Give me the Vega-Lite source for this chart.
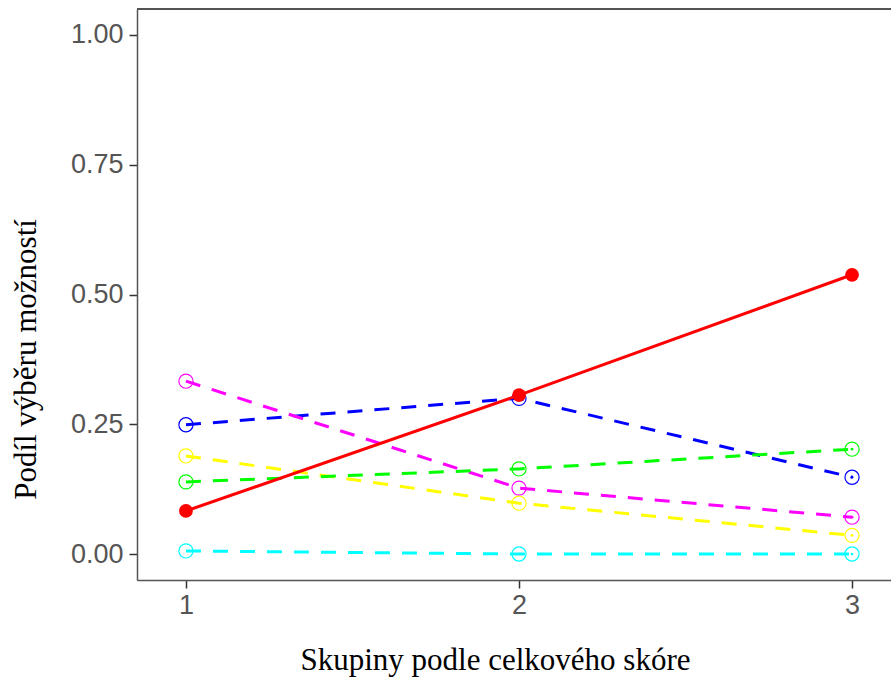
{
  "$schema": "https://vega.github.io/schema/vega-lite/v6.json",
  "width": 754,
  "height": 571,
  "autosize": "none",
  "padding": {"left": 137, "top": 9, "right": 0, "bottom": 97},
  "background": "white",
  "config": {
    "view": {"stroke": null},
    "axis": {
      "grid": false,
      "domainColor": "#555555",
      "domainWidth": 1.5,
      "tickColor": "#333333",
      "tickWidth": 1.5,
      "tickSize": 8,
      "labelFont": "Liberation Sans",
      "labelFontSize": 27,
      "labelColor": "#555555",
      "titleFont": "Liberation Serif",
      "titleFontSize": 31,
      "titleFontWeight": "normal",
      "titleColor": "#000000"
    }
  },
  "data": {
    "values": [
      {"moznost": "A", "skupina": 1, "podil": 0.083},
      {"moznost": "A", "skupina": 2, "podil": 0.306},
      {"moznost": "A", "skupina": 3, "podil": 0.538},
      {"moznost": "B", "skupina": 1, "podil": 0.249},
      {"moznost": "B", "skupina": 2, "podil": 0.300},
      {"moznost": "B", "skupina": 3, "podil": 0.148},
      {"moznost": "C", "skupina": 1, "podil": 0.333},
      {"moznost": "C", "skupina": 2, "podil": 0.127},
      {"moznost": "C", "skupina": 3, "podil": 0.071},
      {"moznost": "D", "skupina": 1, "podil": 0.189},
      {"moznost": "D", "skupina": 2, "podil": 0.098},
      {"moznost": "D", "skupina": 3, "podil": 0.036},
      {"moznost": "E", "skupina": 1, "podil": 0.139},
      {"moznost": "E", "skupina": 2, "podil": 0.164},
      {"moznost": "E", "skupina": 3, "podil": 0.202},
      {"moznost": "F", "skupina": 1, "podil": 0.006},
      {"moznost": "F", "skupina": 2, "podil": 0.0},
      {"moznost": "F", "skupina": 3, "podil": 0.0}
    ]
  },
  "layer": [
    {
      "mark": {"type": "rule", "color": "#555555", "strokeWidth": 1.5},
      "encoding": {"y": {"datum": 1.05, "type": "quantitative", "scale": {"domain": [-0.05, 1.05], "nice": false, "zero": false}}}
    },
    {
      "transform": [{"filter": "datum.moznost != 'A'"}],
      "mark": {"type": "line", "strokeWidth": 3, "strokeDash": [15, 12]},
      "encoding": {
        "x": {
          "field": "skupina", "type": "quantitative",
          "scale": {"domain": [0.853, 3.117], "nice": false, "zero": false},
          "axis": {"values": [1, 2, 3], "format": "d", "labelPadding": 4, "title": "Skupiny podle celkového skóre", "titleX": 358, "titleY": 89, "titleBaseline": "alphabetic", "titleAnchor": null, "titleAlign": "center"}
        },
        "y": {
          "field": "podil", "type": "quantitative",
          "scale": {"domain": [-0.05, 1.05], "nice": false, "zero": false},
          "axis": {"values": [0, 0.25, 0.5, 0.75, 1], "format": ".2f", "labelPadding": 6, "title": "Podíl výběru možností", "titleX": -102, "titleY": 350, "titleAngle": -90, "titleAlign": "center", "titleBaseline": "alphabetic", "titleAnchor": null}
        },
        "color": {"field": "moznost", "type": "nominal", "scale": {"domain": ["A", "B", "C", "D", "E", "F"], "range": ["#FF0000", "#0000FF", "#FF00FF", "#FFFF00", "#00FF00", "#00FFFF"]}, "legend": null}
      }
    },
    {
      "transform": [{"filter": "datum.moznost != 'A'"}],
      "mark": {"type": "point", "shape": "circle", "filled": false, "size": 200, "strokeWidth": 1.2, "opacity": 1},
      "encoding": {
        "x": {"field": "skupina", "type": "quantitative"},
        "y": {"field": "podil", "type": "quantitative"},
        "color": {"field": "moznost", "type": "nominal", "legend": null}
      }
    },
    {
      "transform": [{"filter": "datum.moznost != 'A' && datum.skupina == 3"}],
      "mark": {"type": "circle", "size": 8, "opacity": 1},
      "encoding": {
        "x": {"field": "skupina", "type": "quantitative"},
        "y": {"field": "podil", "type": "quantitative"},
        "color": {"field": "moznost", "type": "nominal", "legend": null}
      }
    },
    {
      "transform": [{"filter": "datum.moznost == 'A'"}],
      "mark": {"type": "line", "strokeWidth": 3},
      "encoding": {
        "x": {"field": "skupina", "type": "quantitative"},
        "y": {"field": "podil", "type": "quantitative"},
        "color": {"field": "moznost", "type": "nominal", "legend": null}
      }
    },
    {
      "transform": [{"filter": "datum.moznost == 'A'"}],
      "mark": {"type": "circle", "size": 190, "opacity": 1},
      "encoding": {
        "x": {"field": "skupina", "type": "quantitative"},
        "y": {"field": "podil", "type": "quantitative"},
        "color": {"field": "moznost", "type": "nominal", "legend": null}
      }
    }
  ]
}
